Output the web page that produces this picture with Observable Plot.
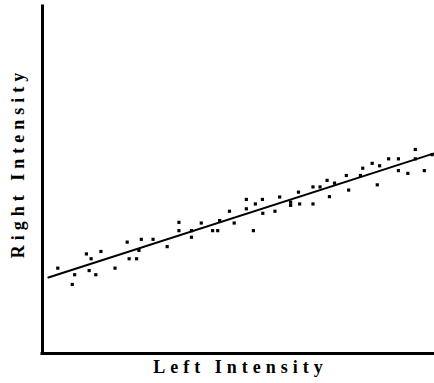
<!DOCTYPE html>
<html><head><meta charset="utf-8">
<script src="https://cdn.jsdelivr.net/npm/d3@7"></script>
<script src="https://cdn.jsdelivr.net/npm/@observablehq/plot@0.6"></script>
<style>body{margin:0;background:#fff}</style>
</head><body><div id="chart"></div>
<script>
const leftIntensity = [3.9, 8.2, 7.6, 11.2, 12.4, 11.9, 13.6, 14.9, 18.5, 21.6, 22.1, 24.0, 24.6, 25.2, 28.2, 31.8, 34.8, 34.8,
  38.0, 38.0, 40.5, 43.4, 44.7, 45.2, 47.7, 48.9, 52.0, 52.0, 53.8, 54.3, 56.1, 56.2, 59.3, 60.5, 63.3, 63.3, 65.3, 65.6,
  69.0, 69.0, 70.8, 72.6, 73.2, 74.5, 77.5, 78.1, 81.1, 81.7, 84.1, 85.4, 86.0, 88.3, 90.8, 90.8, 93.2, 95.1, 95.1, 97.4, 99.4];
const rightIntensity = [24.6, 22.7, 19.9, 28.7, 27.3, 23.9, 22.7, 29.4, 24.6, 32.1, 27.3, 27.3, 29.7, 32.9, 32.9, 30.8, 35.4, 37.8,
  35.4, 33.5, 37.6, 35.4, 35.4, 38.3, 41.0, 37.6, 44.4, 41.7, 35.4, 43.1, 44.4, 40.4, 41.0, 45.1, 43.6, 42.7, 46.5, 43.1,
  48.0, 43.1, 48.0, 49.9, 45.2, 49.1, 51.3, 47.1, 51.3, 53.4, 54.8, 48.6, 54.1, 56.1, 56.1, 52.7, 51.9, 58.8, 56.1, 52.7, 57.3];
const fitX = [1.5, 99.7];
const fitY = [21.9, 57.6];
const xLabel = "Left Intensity";
const yLabel = "Right Intensity";

const points = leftIntensity.map((x, i) => ({x, y: rightIntensity[i]}));
const fit = fitX.map((x, i) => ({x, y: fitY[i]}));
const labelStyle = {fontFamily: "Liberation Serif", fontWeight: "bold", fontSize: 18, fill: "#000", text: d => d, textAnchor: "middle", lineAnchor: "middle"};

const chart = Plot.plot({
  width: 434, height: 383,
  marginLeft: 42, marginRight: 0, marginTop: 6, marginBottom: 30,
  x: {domain: [0, 100], axis: null},
  y: {domain: [0, 100], axis: null},
  style: {background: "#fff", letterSpacing: "5px"},
  marks: [
    Plot.ruleX([0], {stroke: "#000", strokeWidth: 3, strokeLinecap: "square"}),
    Plot.ruleY([0], {stroke: "#000", strokeWidth: 3, strokeLinecap: "square"}),
    Plot.dot(points, {x: "x", y: "y", symbol: "square", r: 1.8, fill: "#000", stroke: "none"}),
    Plot.line(fit, {x: "x", y: "y", stroke: "#000", strokeWidth: 2}),
    Plot.text([xLabel], {...labelStyle, frameAnchor: "bottom", dx: 2, dy: 14}),
    Plot.text([yLabel], {...labelStyle, frameAnchor: "left", dx: -24, dy: -17, rotate: -90})
  ]
});
document.getElementById("chart").appendChild(chart);
</script>
</body></html>
